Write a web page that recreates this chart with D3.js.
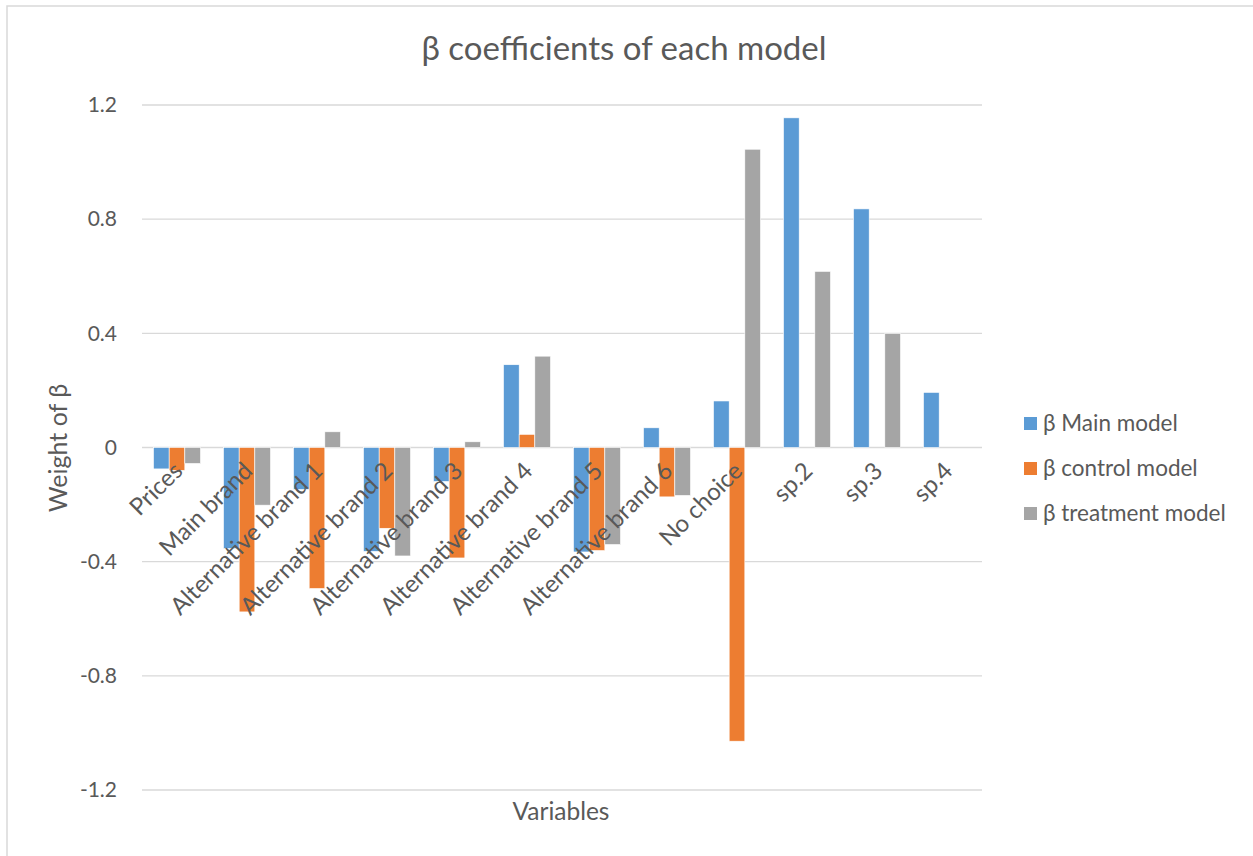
<!DOCTYPE html>
<html>
<head>
<meta charset="utf-8">
<script src="https://cdn.jsdelivr.net/npm/d3@7"></script>
<style>
  html, body { margin: 0; padding: 0; background: #fff; }
  svg { display: block; font-family: Lato, "Open Sans", sans-serif; }
</style>
</head>
<body>
<svg id="chart" width="1253" height="856"></svg>
<script>
// Variables and the three model series
const categories = ["Prices", "Main brand", "Alternative brand 1", "Alternative brand 2",
  "Alternative brand 3", "Alternative brand 4", "Alternative brand 5", "Alternative brand 6",
  "No choice", "sp.2", "sp.3", "sp.4"];
const seriesNames = ["β Main model", "β control model", "β treatment model"];
const mainModel      = [-0.075, -0.354, -0.147, -0.364, -0.119, 0.29, -0.366, 0.069, 0.163, 1.155, 0.836, 0.193];
const controlModel   = [-0.08, -0.576, -0.494, -0.283, -0.387, 0.046, -0.361, -0.173, -1.029, null, null, null];
const treatmentModel = [-0.056, -0.202, 0.055, -0.38, 0.02, 0.32, -0.34, -0.168, 1.045, 0.617, 0.4, null];
const yTicks = [-1.2, -0.8, -0.4, 0, 0.4, 0.8, 1.2];
const yTickLabels = ["-1.2", "-0.8", "-0.4", "0", "0.4", "0.8", "1.2"];
const colors = ["#5B9BD5", "#ED7D31", "#A5A5A5"];

const svg = d3.select("#chart");
const plot = { left: 142, right: 982, top: 105, bottom: 790 };
const textColor = "#595959";

// outer chart frame
svg.append("rect")
  .attr("x", 7).attr("y", 6).attr("width", 1300).attr("height", 900)
  .attr("fill", "none").attr("stroke", "#D9D9D9").attr("stroke-width", 1.5);

const x0 = d3.scaleBand().domain(categories)
  .range([plot.left, plot.right]).paddingInner(0.329).paddingOuter(0.1645);
const x1 = d3.scaleBand().domain(d3.range(3)).range([0, x0.bandwidth()]);
const y = d3.scaleLinear().domain([-1.2, 1.2]).range([plot.bottom, plot.top]);

// horizontal gridlines
svg.append("g").selectAll("line").data(yTicks).join("line")
  .attr("x1", plot.left).attr("x2", plot.right)
  .attr("y1", d => y(d)).attr("y2", d => y(d))
  .attr("stroke", "#D9D9D9").attr("stroke-width", 1.3);

// y axis labels
const yAxis = d3.axisLeft(y).tickValues(yTicks).tickSize(0).tickPadding(0)
  .tickFormat((d, i) => yTickLabels[i]);
const gy = svg.append("g").attr("transform", `translate(${plot.left - 25},0)`).call(yAxis);
gy.select(".domain").remove();
gy.selectAll("text").attr("font-family", "Lato, 'Open Sans', sans-serif")
  .attr("font-size", 21).attr("fill", textColor);

// bars
const series = [mainModel, controlModel, treatmentModel];
const barData = [];
series.forEach((vals, s) => vals.forEach((v, i) => {
  if (v !== null) barData.push({ s, cat: categories[i], v });
}));
svg.append("g").selectAll("rect").data(barData).join("rect")
  .attr("x", d => x0(d.cat) + x1(d.s))
  .attr("width", x1.bandwidth())
  .attr("y", d => y(Math.max(0, d.v)))
  .attr("height", d => Math.abs(y(d.v) - y(0)))
  .attr("fill", d => colors[d.s])
  .attr("stroke", "#fff").attr("stroke-width", 0.6);

// category labels, rotated
const xAxis = d3.axisBottom(x0).tickSize(0).tickPadding(0);
const gx = svg.append("g").attr("transform", `translate(0,${y(0)})`).call(xAxis);
gx.select(".domain").remove();
gx.selectAll("text")
  .attr("font-family", "Lato, 'Open Sans', sans-serif")
  .attr("font-size", 24).attr("fill", textColor)
  .attr("text-anchor", "end").attr("dy", null).attr("y", 0)
  .attr("transform", "translate(7,25) rotate(-45)");

// titles
svg.append("text").attr("x", 624).attr("y", 60).attr("text-anchor", "middle")
  .attr("font-size", 33).attr("fill", textColor).text("β coefficients of each model");
svg.append("text").attr("x", 561).attr("y", 820).attr("text-anchor", "middle")
  .attr("font-size", 24.5).attr("fill", textColor).text("Variables");
svg.append("text").attr("transform", "translate(67,448) rotate(-90)").attr("text-anchor", "middle")
  .attr("font-size", 25).attr("fill", textColor).text("Weight of  β");

// legend
const legend = svg.append("g").selectAll("g").data(seriesNames).join("g")
  .attr("transform", (d, i) => `translate(1024,${423 + i * 45})`);
legend.append("rect").attr("x", 0).attr("y", -6).attr("width", 13).attr("height", 13)
  .attr("fill", (d, i) => colors[i]);
legend.append("text").attr("x", 19).attr("y", 8).attr("font-size", 22.5)
  .attr("fill", textColor).text(d => d);
</script>
</body>
</html>
